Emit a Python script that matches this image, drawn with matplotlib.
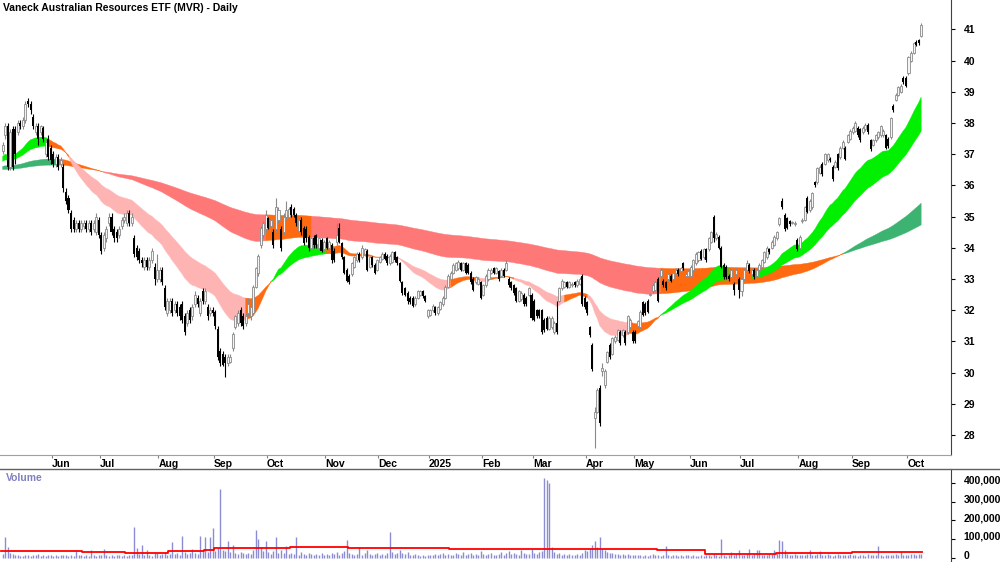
import numpy as np
import pandas as pd
import matplotlib
matplotlib.use("Agg")
import matplotlib.pyplot as plt
from matplotlib import font_manager
from matplotlib.lines import Line2D
from matplotlib.ticker import FuncFormatter
from matplotlib.transforms import ScaledTranslation

title = "Vaneck Australian Resources ETF (MVR) - Daily"
# trading days per month, May-2024 .. Oct-2025
month_days = [20, 19, 23, 22, 21, 23, 21, 20, 21, 20, 21, 19, 22, 20, 23, 21, 22, 6]
month_names = ["Jun", "Jul", "Aug", "Sep", "Oct", "Nov", "Dec", "2025", "Feb", "Mar",
               "Apr", "May", "Jun", "Jul", "Aug", "Sep", "Oct"]

# daily prices, one row per month
opens = [
    37.1,37.6,37.9,36.6,37.8,37.8,37.7,38.0,37.9,38.1,38.7,38.6,38.2,37.7,37.9,37.7,37.85,37.0,37.5,37.2,
    37.0,36.7,36.9,36.7,36.6,35.8,35.6,35.1,34.9,34.6,34.8,34.6,34.7,34.8,34.6,34.8,34.6,34.5,34.9,
    34.4,34.0,34.3,34.8,35.0,34.6,34.5,34.4,34.7,34.9,34.8,35.1,34.8,34.3,34.0,33.9,33.6,33.4,33.6,33.4,33.6,33.4,33.0,
    33.0,33.3,32.7,31.9,32.0,32.3,32.0,32.2,32.1,32.2,31.8,31.6,32.0,31.8,32.2,32.4,31.9,32.6,32.3,32.1,31.9,32.0,
    31.95,31.4,30.7,30.6,30.5,30.3,30.35,30.8,31.45,31.6,32.0,31.8,31.6,31.9,31.8,31.9,32.75,33.2,34.1,34.4,34.6,
    34.95,34.7,34.5,34.6,34.9,34.6,34.5,35.0,35.0,35.3,35.25,35.05,34.55,34.9,34.65,34.6,34.35,34.0,34.3,34.4,34.0,34.25,33.95,
    34.3,34.0,34.1,33.9,34.2,34.65,34.15,33.7,33.3,33.1,33.15,33.4,33.6,33.8,33.7,33.8,33.9,33.4,33.7,33.45,33.3,
    33.55,33.65,33.8,33.75,33.5,33.55,33.85,33.7,33.5,32.9,32.7,32.55,32.4,32.4,32.2,32.4,32.5,32.6,32.45,31.8,
    31.85,32.0,32.1,31.9,32.05,32.2,32.4,32.75,33.0,33.2,33.3,33.35,33.5,33.3,33.5,33.45,33.2,33.0,32.9,32.85,32.9,
    32.5,32.8,33.0,33.2,33.35,33.2,33.25,33.1,33.3,33.3,33.0,32.9,32.8,32.7,32.3,32.35,32.5,32.4,32.5,32.5,
    32.3,32.0,32.0,32.0,31.7,31.75,31.4,31.45,31.3,31.6,32.3,32.7,32.75,32.9,32.75,32.8,32.9,32.8,32.85,33.1,32.4,
    32.25,31.45,30.9,28.55,28.75,29.5,30.05,29.6,30.35,30.9,30.6,31.0,31.05,31.3,31.2,31.3,31.3,31.45,31.3,
    31.3,31.5,31.45,32.25,32.2,32.3,32.5,32.6,32.65,33.0,33.1,32.95,32.9,33.0,33.1,33.0,33.2,33.3,33.25,33.5,33.1,33.1,
    33.1,33.3,33.5,33.6,33.9,33.7,33.95,33.95,34.2,35.0,34.3,34.35,34.0,33.45,33.4,33.1,33.05,32.85,33.15,33.0,
    32.6,33.0,33.3,33.45,33.15,33.3,33.1,33.3,33.4,33.55,33.7,33.95,34.0,34.1,34.3,34.75,35.5,35.05,34.95,34.85,34.8,34.75,34.25,
    34.0,34.85,34.9,35.6,35.2,35.3,36.1,36.1,36.4,36.7,36.7,36.8,36.85,36.6,36.6,37.0,36.9,37.2,37.2,37.4,37.5,
    37.7,37.75,37.85,37.8,37.7,37.8,37.95,37.45,37.3,37.45,37.55,37.6,37.6,37.6,37.5,37.55,38.55,38.75,38.9,39.0,39.45,39.45,
    39.6,40.0,40.25,40.6,40.65,40.8,
]
highs = [
    37.4,38.0,38.0,37.8,37.9,37.9,38.1,38.1,38.2,38.7,38.8,38.7,38.3,38.0,38.0,37.95,37.9,37.5,37.6,37.3,
    37.1,37.0,37.0,36.9,36.7,35.9,35.7,35.2,35.0,34.9,34.9,34.9,34.9,34.9,34.9,34.9,34.9,35.1,35.0,
    34.5,34.5,34.7,35.1,35.1,34.7,34.6,34.7,35.0,35.1,35.2,35.2,35.1,34.4,34.1,34.0,33.7,33.7,33.7,33.7,34.0,33.5,33.8,
    33.4,33.4,32.8,32.4,32.4,32.4,32.3,32.3,32.2,32.3,31.9,32.0,32.1,32.2,32.6,32.5,32.4,32.7,32.7,32.2,32.1,32.1,
    32.0,31.5,30.8,30.7,30.6,30.6,30.6,31.3,31.85,32.0,32.1,31.9,31.9,32.4,32.2,32.8,33.4,33.8,34.7,34.85,35.2,
    35.0,35.0,34.6,35.6,35.3,34.7,35.1,35.5,35.3,35.4,35.3,35.1,34.95,35.0,34.7,34.7,34.4,34.35,34.4,34.45,34.35,34.3,34.25,
    34.35,34.25,34.15,34.0,34.8,34.8,34.2,33.75,33.35,33.15,33.55,33.75,33.85,33.85,34.1,34.0,33.95,33.75,33.75,33.5,33.65,
    33.75,33.85,33.85,33.8,33.8,33.9,33.9,33.75,33.55,32.95,32.75,32.6,32.45,32.45,32.45,32.65,32.65,32.65,32.5,32.05,
    32.05,32.2,32.15,32.15,32.3,32.45,32.8,33.15,33.25,33.5,33.55,33.6,33.55,33.55,33.55,33.5,33.25,33.05,33.1,33.05,32.95,
    32.85,33.15,33.35,33.35,33.4,33.4,33.3,33.35,33.35,33.6,33.05,32.95,32.85,32.75,32.65,32.6,32.55,32.45,32.75,32.55,
    32.35,32.05,32.05,32.05,31.75,31.8,31.8,31.8,31.65,32.3,32.75,33.0,32.95,32.95,32.95,32.9,32.95,33.0,33.05,33.15,32.45,
    32.3,31.5,30.95,28.9,29.5,29.6,30.3,30.1,30.7,30.95,31.15,31.2,31.4,31.35,31.4,31.35,31.85,31.75,31.35,
    31.35,31.7,32.0,32.3,32.25,32.35,32.55,32.85,32.95,33.05,33.35,33.0,32.95,33.2,33.15,33.25,33.35,33.35,33.4,33.55,33.2,33.3,
    33.45,33.65,33.85,33.9,33.95,34.0,34.0,34.35,34.55,35.05,34.5,34.4,34.05,33.5,33.45,33.15,33.35,32.9,33.35,33.05,
    33.05,33.35,33.6,33.5,33.35,33.35,33.35,33.5,33.65,33.9,34.05,34.0,34.25,34.4,34.55,35.0,35.6,35.1,35.0,34.9,34.85,34.85,34.3,
    34.4,34.95,35.35,35.65,35.55,35.8,36.15,36.6,36.65,36.75,37.05,37.05,36.9,36.65,36.8,37.05,37.25,37.45,37.25,37.65,37.8,
    37.9,38.05,37.9,37.85,37.9,38.0,38.0,37.5,37.5,37.65,37.75,37.95,37.8,37.65,37.55,38.2,38.6,38.95,39.2,39.25,39.5,39.5,
    40.15,40.3,40.6,40.65,40.7,41.2,
]
lows = [
    37.0,37.5,36.5,36.5,36.5,36.7,37.6,37.8,37.8,38.0,38.5,38.3,37.8,37.6,37.3,37.6,37.4,36.9,36.8,36.7,
    36.6,36.6,36.5,36.6,35.8,35.4,35.1,34.5,34.5,34.5,34.5,34.5,34.6,34.5,34.5,34.4,34.5,34.4,34.3,
    33.8,33.9,34.2,34.7,34.4,34.2,34.2,34.3,34.6,34.8,34.7,34.7,34.7,33.7,33.6,33.5,33.4,33.3,33.3,33.3,33.5,32.8,32.9,
    32.9,32.8,32.0,31.8,31.9,31.8,31.9,31.8,31.7,31.6,31.2,31.5,31.6,31.7,32.1,32.1,31.8,32.2,32.2,31.7,31.8,31.8,
    31.4,30.4,30.2,30.2,29.85,30.2,30.3,30.7,31.4,31.5,31.5,31.4,31.5,31.8,31.7,31.85,32.7,33.1,34.0,34.3,34.5,
    34.6,34.6,34.0,34.5,34.8,33.9,34.4,34.9,34.9,35.0,35.0,34.7,34.5,34.4,34.1,34.2,33.9,33.95,34.0,34.0,33.9,33.85,33.9,
    33.95,33.9,33.5,33.55,34.1,34.15,33.65,33.15,32.9,32.85,33.1,33.35,33.55,33.55,33.65,33.75,33.25,33.35,33.4,33.15,33.25,
    33.5,33.6,33.6,33.45,33.45,33.5,33.55,33.45,32.9,32.5,32.45,32.2,32.2,32.1,32.15,32.35,32.45,32.4,32.25,31.75,
    31.8,31.95,31.85,31.85,32.0,32.15,32.35,32.7,32.95,33.15,33.25,33.3,33.25,33.25,33.15,33.15,32.85,32.6,32.85,32.8,32.35,
    32.45,32.75,32.95,33.15,33.15,33.15,32.95,33.05,33.05,33.25,32.75,32.65,32.5,32.25,32.25,32.3,32.15,32.15,32.45,31.7,
    31.65,31.75,31.75,31.25,31.3,31.35,31.35,31.4,31.25,31.25,32.25,32.65,32.7,32.7,32.7,32.75,32.75,32.75,32.8,32.15,32.05,
    31.85,31.15,30.05,27.6,28.7,28.3,29.9,29.5,30.3,30.45,30.55,30.95,31.0,30.9,31.15,30.9,31.25,31.4,30.95,
    30.95,31.45,31.4,31.8,31.85,31.9,32.45,32.55,32.6,32.25,33.05,32.75,32.65,32.95,32.9,32.95,33.15,33.1,33.2,33.3,33.05,33.05,
    33.05,33.25,33.45,33.55,33.6,33.65,33.55,33.9,34.15,34.2,34.25,33.95,33.35,33.0,33.0,32.95,33.0,32.5,33.1,32.4,
    32.45,32.95,33.25,33.2,33.1,33.0,33.05,33.25,33.35,33.5,33.65,33.8,33.95,34.05,34.25,34.7,35.25,34.55,34.6,34.7,34.75,34.7,33.9,
    33.95,34.8,34.85,35.1,35.15,35.25,35.95,36.05,36.35,36.3,36.65,36.75,36.75,36.15,36.55,36.5,36.85,37.15,36.8,37.35,37.45,
    37.65,37.7,37.55,37.4,37.65,37.75,37.65,37.1,37.25,37.4,37.5,37.55,37.55,37.15,37.2,37.5,38.35,38.7,38.85,38.95,39.25,39.15,
    39.55,39.95,40.2,40.45,40.5,40.75,
]
closes = [
    37.3,37.9,36.6,37.7,36.6,37.0,38.0,37.9,38.1,38.6,38.6,38.4,37.9,37.9,37.5,37.9,37.5,37.4,36.9,36.8,
    36.7,36.9,36.6,36.8,35.9,35.5,35.2,34.6,34.6,34.8,34.6,34.8,34.8,34.6,34.8,34.5,34.8,35.0,34.4,
    33.9,34.4,34.6,35.0,34.5,34.3,34.3,34.6,34.9,35.0,35.1,34.8,35.0,33.8,33.7,33.6,33.5,33.6,33.4,33.6,33.9,33.0,33.3,
    33.3,32.9,32.1,32.3,32.3,31.9,32.2,31.9,31.8,31.7,31.3,31.9,31.7,32.1,32.5,32.2,32.3,32.3,32.6,31.8,32.0,31.9,
    31.5,30.5,30.3,30.25,30.3,30.5,30.5,31.25,31.8,31.9,31.6,31.5,31.8,32.2,32.1,32.75,33.35,33.75,34.65,34.8,35.05,
    34.65,34.9,34.1,35.3,35.2,34.0,35.0,35.2,35.25,35.05,35.05,34.8,34.9,34.5,34.15,34.3,34.0,34.3,34.1,34.1,34.3,33.9,34.2,
    34.0,34.2,33.6,33.6,34.4,34.2,33.7,33.2,32.95,32.9,33.5,33.7,33.8,33.6,34.0,33.95,33.3,33.7,33.45,33.2,33.6,
    33.7,33.8,33.65,33.5,33.75,33.85,33.6,33.5,32.95,32.55,32.5,32.3,32.25,32.15,32.4,32.6,32.6,32.45,32.3,32.0,
    32.0,32.15,31.9,32.1,32.25,32.4,32.75,33.1,33.2,33.45,33.5,33.55,33.3,33.5,33.2,33.2,32.9,32.65,33.05,33.0,32.4,
    32.8,33.1,33.3,33.3,33.2,33.35,33.0,33.3,33.1,33.5,32.8,32.7,32.55,32.3,32.6,32.55,32.2,32.2,32.7,31.75,
    31.7,31.8,31.8,31.3,31.35,31.4,31.75,31.75,31.6,31.3,32.7,32.95,32.9,32.75,32.9,32.85,32.8,32.95,33.0,32.2,32.1,
    31.9,31.2,30.1,28.75,29.45,28.4,30.15,30.05,30.65,30.5,31.1,31.15,31.35,30.95,31.35,30.95,31.8,31.7,31.0,
    31.0,31.65,31.95,31.85,31.9,31.95,32.5,32.8,32.9,32.3,33.3,32.8,32.7,33.15,32.95,33.2,33.3,33.15,33.35,33.35,33.15,33.25,
    33.4,33.6,33.8,33.85,33.65,33.95,33.6,34.3,34.5,34.3,34.45,34.0,33.4,33.05,33.05,33.0,33.3,32.65,33.3,32.65,
    33.0,33.3,33.5,33.25,33.3,33.05,33.3,33.45,33.6,33.85,34.0,33.85,34.2,34.35,34.5,34.95,35.3,34.6,34.65,34.75,34.8,34.8,33.95,
    34.35,34.9,35.3,35.15,35.5,35.75,36.0,36.55,36.6,36.35,37.0,37.0,36.8,36.2,36.75,36.55,37.2,37.4,36.85,37.6,37.75,
    37.85,38.0,37.6,37.45,37.85,37.95,37.7,37.15,37.45,37.6,37.7,37.9,37.75,37.2,37.25,38.15,38.4,38.9,39.15,39.2,39.3,39.2,
    40.1,40.25,40.55,40.5,40.55,41.15,
]
# daily volume, thousands of units
volumes_k = [
    25,111,60,30,22,15,18,12,14,20,16,12,18,15,22,13,17,12,19,15,
    14,18,12,16,20,15,13,17,12,44,15,18,14,16,12,44,17,13,15,
    15,49,18,14,16,12,18,15,13,17,12,15,20,167,55,22,70,18,44,16,14,28,30,
    20,25,35,18,22,88,25,30,20,118,35,22,28,49,30,25,118,45,113,35,113,162,
    40,55,365,45,38,90,35,70,30,25,35,28,22,30,25,45,150,100,60,40,90,
    35,25,40,113,30,45,28,65,22,30,25,113,20,35,25,18,30,22,15,25,20,28,18,
    22,18,30,25,35,20,28,40,96,30,22,18,25,60,20,30,45,22,18,25,30,
    20,25,18,30,140,35,22,28,45,30,25,35,20,18,25,15,12,20,14,18,
    20,18,25,15,22,30,18,25,20,15,28,22,18,35,20,25,30,18,22,15,40,
    25,18,22,30,20,15,25,35,20,28,40,22,30,25,18,45,30,22,25,50,
    30,25,35,40,424,413,397,60,35,25,30,20,25,18,22,15,20,25,18,30,45,
    40,55,70,90,60,113,50,45,35,30,28,25,22,20,25,18,22,20,15,
    18,15,20,12,16,14,18,22,15,20,14,16,65,18,12,15,20,14,16,12,18,15,
    12,15,10,14,18,12,16,20,14,25,15,12,102,18,14,20,35,15,22,42,
    20,15,25,50,18,22,42,42,20,15,18,22,25,45,30,97,92,45,25,20,18,22,15,
    15,20,18,25,42,20,18,22,40,15,18,25,20,14,18,22,16,20,15,18,22,
    15,18,12,20,16,14,22,18,15,20,65,18,14,16,20,15,18,22,16,35,20,18,
    20,25,22,18,25,22,
]
# red volume average: level (thousands) starting at bar index
vol_avg_start = [0, 32, 49, 66, 80, 84, 98, 114, 137, 177, 236, 259, 278, 306, 336]
vol_avg_k = [38, 32, 30, 36, 45, 52, 57, 59, 55, 48, 47, 45, 21, 30, 33]

# moving-average ribbons: spans and values just before the first bar
short_spans = (27, 50)
short_seed = (36.9, 36.75)
long_spans = (150, 280)
long_seed = (36.6, 36.5)
slope_days = 5

n = sum(month_days)
assert len(opens) == len(highs) == len(lows) == len(closes) == len(volumes_k) == n

names = {f.name for f in font_manager.fontManager.ttflist}
if "Liberation Sans Narrow" in names:
    plt.rcParams["font.family"] = ["Liberation Sans Narrow", "DejaVu Sans"]
    fs = 9
else:
    plt.rcParams["font.family"] = ["Liberation Sans", "DejaVu Sans"]
    fs = 7.5

fig = plt.figure(figsize=(10, 5.62), dpi=100)
ax = fig.add_axes([0, 1 - 455 / 562, 0.951, 455 / 562])
axv = fig.add_axes([0, 0, 0.951, 93 / 562])

x = np.arange(n)
o, h, l, c = map(np.array, (opens, highs, lows, closes))


def ribbon(spans, seeds, colors, z):
    f, s = [pd.Series([seed] + closes).ewm(span=sp, adjust=False).mean().to_numpy()
            for sp, seed in zip(spans, seeds)]
    back = np.maximum(x + 1 - slope_days, 0)
    df, ds = f[x + 1] - f[back], s[x + 1] - s[back]
    f, s = f[1:], s[1:]
    # green: fast above slow and both rising; red: the mirror case; orange: mixed
    state = np.where((f > s) & (df > 0) & (ds > 0), 0,
                     np.where((f < s) & (df < 0) & (ds < 0), 1, 2))
    for k, col in enumerate(colors):
        m = state == k
        m = m | np.r_[False, m[:-1]]
        ax.fill_between(x, f, s, where=m, color=col, lw=0.3, zorder=z)


ribbon(long_spans, long_seed, ["#3cb371", "#ff7878", "#ff6a10"], 1)
ribbon(short_spans, short_seed, ["#00f000", "#ffb4b4", "#ff6a10"], 2)

# candles
up = c >= o
ax.vlines(x[up], l[up], h[up], color="#8a8a8a", lw=0.8, zorder=3)
ax.vlines(x[~up], l[~up], h[~up], color="black", lw=0.8, zorder=3)
lo = np.minimum(o, c)
ht = np.maximum(np.abs(c - o), 0.03)
ax.bar(x[up], ht[up], bottom=lo[up], width=0.8, facecolor="#f4f4f4",
       edgecolor="#8a8a8a", lw=0.6, zorder=4)
ax.bar(x[~up], ht[~up], bottom=lo[~up], width=0.8, color="black", lw=0, zorder=4)

xlim = (-1.07, 374.8)
ax.set_xlim(*xlim)
ax.set_ylim(27.36, 41.94)
ax.yaxis.tick_right()
ax.set_yticks(range(28, 42))
for side in ("left", "top"):
    ax.spines[side].set_visible(False)
ax.spines["bottom"].set_color("#a0a0a0")
ax.spines["right"].set_color("#404040")
starts = np.cumsum(month_days)[:-1]
ax.set_xticks(starts - 0.5)
ax.set_xticklabels(month_names, ha="left")
ax.tick_params(axis="x", direction="out", length=2.5, pad=0.5, color="#808080",
               labelsize=fs)
ax.tick_params(axis="y", direction="out", length=3, pad=6, labelsize=fs)
for t in ax.get_xticklabels() + ax.get_yticklabels():
    t.set_fontweight("bold")
ax.text(0.003, 1 - 8 / 455, title, transform=ax.transAxes, fontsize=fs,
        fontweight="bold", va="center", ha="left")

# volume panel
vol = np.array(volumes_k) * 1000
axv.vlines(x, 0, vol, color="#8c8cd2", lw=1.0)
sx = np.array(vol_avg_start + [n]) - 0.5
sy = np.array(vol_avg_k + [vol_avg_k[-1]]) * 1000
axv.step(sx, sy, where="post", color="#ff0000", lw=1.3)
axv.set_xlim(*xlim)
axv.set_ylim(-19600, 472500)
axv.yaxis.tick_right()
axv.set_yticks([0, 100000, 200000, 300000, 400000])
axv.yaxis.set_major_formatter(FuncFormatter(lambda v, p: f"{int(v):,}"))
axv.set_xticks([])
for side in ("left", "top", "bottom"):
    axv.spines[side].set_visible(False)
axv.spines["right"].set_color("#404040")
axv.tick_params(axis="y", direction="out", length=3, pad=6, labelsize=fs)
lift = ScaledTranslation(0, 2.5 / 72, fig.dpi_scale_trans)
for t in axv.get_yticklabels():
    t.set_fontweight("bold")
    t.set_transform(t.get_transform() + lift)
axv.text(0.006, 1 - 9 / 93, "Volume", transform=axv.transAxes, color="#8080c0",
         fontsize=fs, fontweight="bold", va="center", ha="left")

fig.add_artist(Line2D([0, 1], [1 - 469 / 562] * 2, color="#606060", lw=1.0))

fig.savefig("out.png", dpi=100)
